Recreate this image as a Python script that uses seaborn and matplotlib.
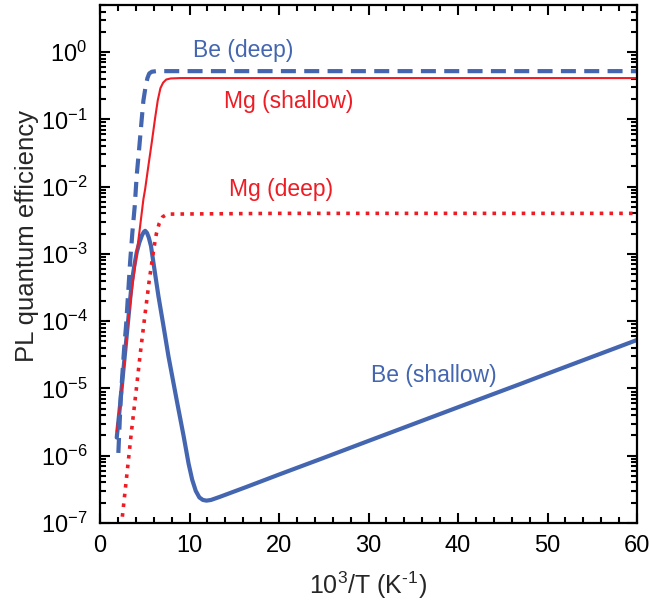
import matplotlib
matplotlib.use("Agg")
import matplotlib.pyplot as plt
import matplotlib.ticker as mticker
import seaborn as sns

# ---- data ----
be_deep_x = [2.05, 2.31, 2.54, 2.69, 2.91, 3.17, 3.36, 3.62, 3.88, 4.1, 4.4, 4.66, 4.85, 5.1, 5.3, 5.5, 5.8, 6.3, 10, 20, 30, 40, 50, 60]
be_deep_y = [1.1e-6, 6.9e-6, 1.95e-5, 3.8e-5, 8.5e-5, 2.95e-4, 7.4e-4, 2.1e-3, 5.1e-3, 1.45e-2, 4.0e-2, 0.10, 0.19,
             0.31, 0.41, 0.48, 0.51, 0.52, 0.52, 0.52, 0.52, 0.52, 0.52, 0.52]

mg_sh_x = [1.87, 2.31, 2.69, 2.99, 3.43, 3.92, 4.4, 4.85, 5.04, 5.41, 5.78, 6.16, 6.45, 6.75, 7.05, 7.4, 7.9, 9.0, 20, 40, 60]
mg_sh_y = [2.3e-6, 6.9e-6, 2.3e-5, 6.8e-5, 2.1e-4, 6.6e-4, 2.1e-3, 6.5e-3, 9.1e-3, 2.05e-2, 4.5e-2, 0.105, 0.19,
           0.29, 0.35, 0.39, 0.405, 0.41, 0.41, 0.41, 0.41]

mg_dp_x = [2.38, 3.0, 3.5, 4.0, 4.5, 5.0, 5.5, 6.0, 6.3, 6.6, 7.0, 7.5, 20, 40, 60]
mg_dp_y = [8.9e-8, 5.2e-7, 2.2e-6, 8.3e-6, 3.3e-5, 1.17e-4, 4.0e-4, 1.17e-3, 2.0e-3, 2.8e-3, 3.55e-3, 3.9e-3,
           4.0e-3, 4.0e-3, 4.0e-3]

be_sh_x = [1.87, 2.24, 2.61, 2.8, 3.28, 3.55, 3.85, 4.1, 4.4, 4.7, 4.9, 5.05, 5.25, 5.45, 5.7, 5.97, 6.53, 7.09,
           7.65, 8.58, 9.33, 9.9, 10.3, 10.7, 11.1, 11.5, 11.9, 12.4, 13.4, 16.4, 20, 25, 30, 40, 47, 50, 60]
be_sh_y = [1.86e-6, 5.6e-6, 1.86e-5, 3.4e-5, 1.58e-4, 3.8e-4, 6.9e-4, 1.05e-3, 1.48e-3, 1.9e-3, 2.12e-3, 2.2e-3,
           2.05e-3, 1.75e-3, 1.3e-3, 7.4e-4, 2.35e-4, 8.5e-5, 3.0e-5, 6.6e-6, 2.0e-6, 7.6e-7, 4.4e-7, 3.0e-7,
           2.4e-7, 2.2e-7, 2.15e-7, 2.2e-7, 2.45e-7, 3.45e-7, 5.25e-7, 9.3e-7, 1.66e-6, 5.25e-6, 1.17e-5,
           1.66e-5, 5.25e-5]

labels = ["Be (deep)", "Mg (shallow)", "Mg (deep)", "Be (shallow)"]
label_x = [15.95, 21.05, 20.26, 37.3]
label_y = [1.06, 0.182, 8.9e-3, 1.58e-5]

BLUE = "#4466b0"
RED = "#ee1c24"

sns.set_style("ticks")
plt.rcParams["font.family"] = ["Liberation Sans", "DejaVu Sans"]
plt.rcParams["mathtext.default"] = "regular"
plt.rcParams["axes.unicode_minus"] = False

fig = plt.figure(figsize=(6.49, 6.08), dpi=100)
ax = fig.add_axes([100 / 649, 1 - 523 / 608, 537 / 649, 518 / 608])

sns.lineplot(x=be_sh_x, y=be_sh_y, ax=ax, color=BLUE, lw=3.0, sort=False, estimator=None)
sns.lineplot(x=mg_sh_x, y=mg_sh_y, ax=ax, color=RED, lw=1.5, sort=False, estimator=None)
sns.lineplot(x=mg_dp_x, y=mg_dp_y, ax=ax, color=RED, lw=2.6, sort=False, estimator=None)
ax.lines[-1].set_dashes([1.0, 1.7])
sns.lineplot(x=be_deep_x, y=be_deep_y, ax=ax, color=BLUE, lw=3.0, sort=False, estimator=None)
ax.lines[-1].set_dashes([3.6, 2.0])

ax.set_yscale("log")
ax.set_xlim(0, 60)
ax.set_ylim(1e-7, 5)

colors = [BLUE, RED, RED, BLUE]
for t, x, y, c in zip(labels, label_x, label_y, colors):
    ax.text(x, y, t, color=c, fontsize=16.5, ha="center", va="center")

ax.xaxis.set_major_locator(mticker.MultipleLocator(10))
ax.xaxis.set_minor_locator(mticker.MultipleLocator(2))
ax.yaxis.set_major_locator(mticker.LogLocator(base=10, numticks=20))
ax.yaxis.set_minor_locator(mticker.LogLocator(base=10, subs=range(2, 10), numticks=20))
ax.yaxis.set_minor_formatter(mticker.NullFormatter())

ax.tick_params(which="both", direction="in", top=True, right=True, width=1.5, colors="black")
ax.tick_params(which="major", length=7, labelsize=17, pad=9)
ax.tick_params(which="minor", length=4)
for s in ax.spines.values():
    s.set_linewidth(1.6)
    s.set_color("black")

ax.set_xlabel("$10^3$/T (K$^{\u2010 1}$)", fontsize=18, labelpad=9)
ax.set_ylabel("PL quantum efficiency", fontsize=18.5)
ax.yaxis.set_label_coords(-0.113, 0.555)

fig.savefig("out.png", dpi=100)
